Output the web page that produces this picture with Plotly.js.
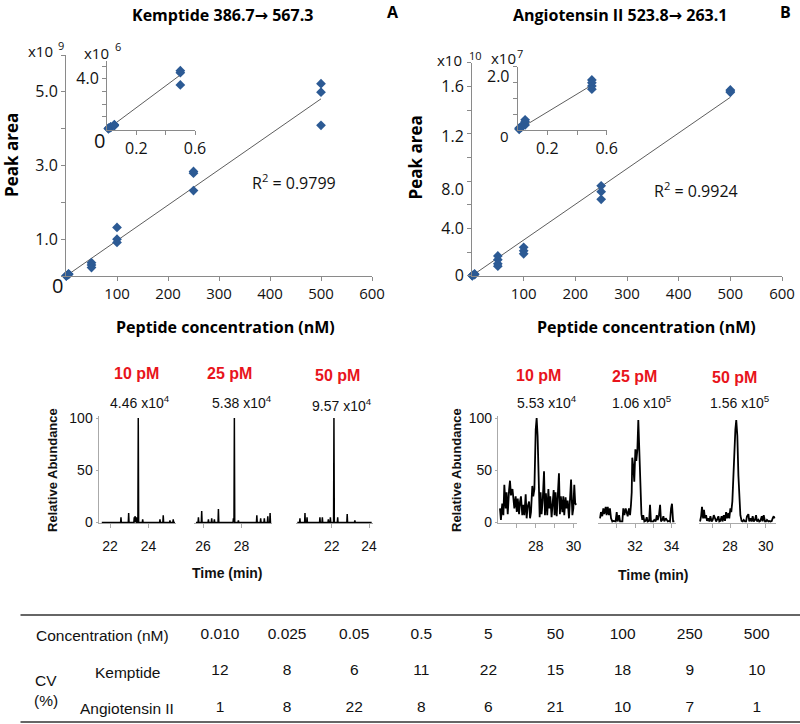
<!DOCTYPE html>
<html><head><meta charset="utf-8">
<script src="https://cdn.plot.ly/plotly-3.0.1.min.js"></script>
<style>html,body{margin:0;padding:0;background:#fff}</style>
</head><body><div id="chart" style="width:800px;height:724px"></div>
<script>
// ================= DATA =================
// Kemptide calibration (main: x10^9, inset: x10^6), concentration in nM
const kempMainConc = [0.5,0.5,0.5,5,5,5,50,50,50,100,100,100,250,250,250,500,500,500];
const kempMainArea = [0.004,0.0045,0.0035,0.05,0.04,0.06,0.36,0.30,0.23,1.32,1.00,0.91,2.84,2.79,2.32,5.22,4.99,4.09];
const kempInsetConc = [0.01,0.01,0.01,0.025,0.025,0.025,0.05,0.05,0.05,0.5,0.5,0.5];
const kempInsetArea = [0.05,0.08,0.10,0.15,0.18,0.21,0.30,0.35,0.38,4.64,4.48,3.51];
const kempMainSlope = 0.00962, kempInsetSlope = 8.6;
const kempR2 = '0.9799';
// Angiotensin II calibration (main: x10^10, inset: x10^7)
const angioMainConc = [0.5,0.5,0.5,5,5,5,50,50,50,50,100,100,100,250,250,250,500,500,500];
const angioMainArea = [0.0015,0.0014,0.0013,0.012,0.015,0.010,0.167,0.135,0.10,0.08,0.24,0.21,0.185,0.76,0.71,0.645,1.57,1.56,1.55];
const angioInsetConc = [0.01,0.01,0.01,0.025,0.025,0.025,0.05,0.05,0.05,0.5,0.5,0.5,0.5];
const angioInsetArea = [0.02,0.04,0.06,0.085,0.10,0.12,0.16,0.26,0.32,1.58,1.49,1.39,1.29];
const angioMainSlope = 0.003015, angioInsetSlope = 2.84;
const angioR2 = '0.9924';
const mainTrendX = [0, 500], insetTrendX = [0, 0.5];

// Kemptide chromatograms (spike list: time, relative abundance)
const kemp10Range = [21.57, 25.38];
const kemp10Times = [22.57,22.97,23.26,23.30,23.37,23.47,23.70,24.60,24.77,25.12,25.29];
const kemp10Heights = [5,9,5,6,5,100,3,3,7,2,3];
const kemp25Range = [25.63, 29.55];
const kemp25Times = [25.76,25.93,26.28,26.45,26.59,26.80,27.58,27.63,27.84,28.80,29.00,29.19,29.37,29.49];
const kemp25Heights = [5,11,3,4,3,13,4,100,2,7,4,4,6,9];
const kemp50Range = [20.16, 24.14];
const kemp50Times = [20.30,20.57,20.68,21.37,21.50,21.82,21.93,22.12,22.32,22.83,23.24];
const kemp50Heights = [4,9,5,5,5,3,5,100,5,8,2];

// Angiotensin II chromatograms (traces)
const angio10Time = [26.11,26.16,26.23,26.29,26.34,26.41,26.46,26.52,26.59,26.64,26.69,26.77,26.82,26.87,26.94,27.0,27.05,27.12,27.17,27.22,27.29,27.35,27.40,27.47,27.52,27.57,27.65,27.70,27.75,27.82,27.87,27.93,28.0,28.05,28.10,28.16,28.21,28.26,28.31,28.37,28.44,28.49,28.54,28.61,28.67,28.72,28.77,28.84,28.89,28.95,29.0,29.05,29.11,29.16,29.23,29.28,29.33,29.41,29.46,29.51,29.58,29.63,29.69,29.76,29.81,29.87,29.94,29.99,30.04,30.09,30.15];
const angio10Abund = [13.5,2.5,18,7,36,13.5,29,8,31,40,26,32,23,13.5,25,10,23,8,20,25,7,17,7,27,4,15,20,4,10,35,25,32,89,100,83,40,5,29,8,21,49,7,28,7,32,13.5,25,5,17,31,7,29,6,24,47,8,25,10,25,7,24,13.5,21,4,17,41,7,13.5,36,18,17];
const angio25Time = [30.09,30.14,30.21,30.27,30.32,30.40,30.45,30.51,30.58,30.63,30.69,30.76,30.81,30.87,30.94,31.0,31.05,31.13,31.18,31.23,31.31,31.36,31.42,31.49,31.55,31.60,31.67,31.73,31.78,31.82,31.85,31.91,31.96,32.02,32.07,32.13,32.18,32.24,32.29,32.35,32.40,32.45,32.51,32.58,32.64,32.69,32.77,32.82,32.87,32.95,33.0,33.05,33.13,33.19,33.24,33.31,33.37,33.42,33.49,33.55,33.60,33.68,33.73,33.79,33.86,33.91,33.97,34.02,34.08,34.15];
const angio25Abund = [4,10,6,13.5,8,15,7,15,7,13.5,4,1,1.5,1,1,10,1,7,1,1,1,13.5,7,13.5,7,6,13.5,7,17,29,62,53,39,70,59,70,98,61,29,8,2.5,7,1,1.5,5,1,1.5,17,1,1,1,2.5,1,7,2.5,7,17,1,2.5,6,1,4,2.5,1,1.5,1,13.5,18,1,1];
const angio50Time = [26.32,26.38,26.43,26.49,26.54,26.60,26.66,26.71,26.78,26.84,26.90,26.97,27.03,27.09,27.16,27.22,27.27,27.35,27.40,27.46,27.53,27.59,27.65,27.72,27.78,27.83,27.91,27.96,28.02,28.07,28.13,28.19,28.24,28.30,28.35,28.41,28.47,28.52,28.58,28.65,28.71,28.77,28.84,28.90,28.95,29.03,29.08,29.14,29.21,29.27,29.33,29.40,29.46,29.51,29.59,29.64,29.70,29.78,29.83,29.89,29.96,30.02,30.07,30.15,30.20,30.26,30.34,30.39,30.45,30.50];
const angio50Abund = [1,6,15,4,12,4,7,1.5,4,1,6,1,2.5,7,4,1,2.5,6,1,1.5,6,1,7,1.5,10,4,9,4,13.5,10,20,45,70,89,98,83,45,32,7,1.5,1,2.5,1,1,6,8,1,4,1,6,1,2.5,7,1,2.5,1,1.5,6,1,7,1,1,2.5,1,1.5,1,1.5,4,6,4];

// Peak labels
const levelLabels = ['10 pM','25 pM','50 pM'];
const kempIntensity = ['4.46 x10<sup>4</sup>','5.38 x10<sup>4</sup>','9.57 x10<sup>4</sup>'];
const angioIntensity = ['5.53 x10<sup>4</sup>','1.06 x10<sup>5</sup>','1.56 x10<sup>5</sup>'];

// CV table
const tableConc = ['0.010','0.025','0.05','0.5','5','50','100','250','500'];
const tableRows = ['Concentration (nM)','Kemptide','Angiotensin II'];
const cvKemptide = [12,8,6,11,22,15,18,9,10];
const cvAngiotensin = [1,8,22,8,6,21,10,7,1];

// ================= HELPERS =================
const W = 800, H = 724;
const dx = (a, b) => [a / W, b / W];
const dy = (top, bot) => [1 - bot / H, 1 - top / H];
const AX = '#8a8a8a';
const BLUE = '#2c5a94';
const OS = 'Open Sans, sans-serif';
const ARIAL = 'Liberation Sans, Arial, sans-serif';
const SPIKE_HALF = 0.02;

function sticks(range, ts, hs) {
  const x = [range[0]], y = [0];
  ts.forEach((t, i) => { x.push(t - SPIKE_HALF, t, t + SPIKE_HALF); y.push(0, hs[i], 0); });
  x.push(range[1]); y.push(0);
  return {x, y};
}
function ann(text, px, py, font, extra) {
  return Object.assign({text, x: px / W, y: 1 - py / H, xref: 'paper', yref: 'paper',
    xanchor: 'center', yanchor: 'middle', showarrow: false, font}, extra || {});
}
const base = {showgrid: false, zeroline: false};
function linAxis(o) {
  return Object.assign({}, base, {ticks: 'outside', ticklen: 4, tickcolor: AX, tickwidth: 1,
    showline: true, linecolor: AX, linewidth: 1,
    tickfont: {family: OS, size: 16, color: '#111'}}, o);
}

// chromatogram axis mapping: value 0 -> 522.5px, 1.045 px per unit
const chromYDom = dy(522.5 - 101.5 * 1.045, 522.5 + 0.8 * 1.045);
function chromX(o) {
  return Object.assign({}, base, {ticks: 'outside', ticklen: 4, tickcolor: '#aaa',
    showline: true, linecolor: '#aaa', linewidth: 1, layer: 'below traces',
    tickfont: {family: ARIAL, size: 14, color: '#111'}, ticklabelstandoff: 6}, o);
}
function chromY(o, show) {
  return Object.assign({}, base, {range: [-0.8, 101.5], domain: chromYDom, tickvals: [0, 50, 100],
    showticklabels: show, ticks: show ? 'outside' : '', ticklen: 2, tickcolor: '#aaa',
    showline: show, linecolor: '#aaa', linewidth: 1, layer: 'below traces',
    tickfont: {family: ARIAL, size: 14, color: '#111'}}, o);
}

// ================= TRACES =================
const traces = [];
function scatterPts(x, y, xa, ya) {
  traces.push({type: 'scatter', mode: 'markers', x, y, xaxis: xa, yaxis: ya, cliponaxis: false,
    marker: {symbol: 'diamond', size: 7.5, color: BLUE}, hoverinfo: 'skip'});
}
function trend(xs, slope, xa, ya) {
  traces.push({type: 'scatter', mode: 'lines', x: xs, y: xs.map(v => v * slope), xaxis: xa, yaxis: ya,
    cliponaxis: false, line: {color: '#333', width: 0.8}, hoverinfo: 'skip'});
}
trend(mainTrendX, kempMainSlope, 'x', 'y');
scatterPts(kempMainConc, kempMainArea, 'x', 'y');
trend(insetTrendX, kempInsetSlope, 'x2', 'y2');
scatterPts(kempInsetConc, kempInsetArea, 'x2', 'y2');
trend(mainTrendX, angioMainSlope, 'x3', 'y3');
scatterPts(angioMainConc, angioMainArea, 'x3', 'y3');
trend(insetTrendX, angioInsetSlope, 'x4', 'y4');
scatterPts(angioInsetConc, angioInsetArea, 'x4', 'y4');
// dummy traces for label overlay axes
traces.push({type: 'scatter', mode: 'markers', x: [], y: [], xaxis: 'x3', yaxis: 'y12', hoverinfo: 'skip'});
traces.push({type: 'scatter', mode: 'markers', x: [], y: [], xaxis: 'x4', yaxis: 'y13', hoverinfo: 'skip'});

const chromLine = {color: '#000', width: 1.5};
[[kemp10Range, kemp10Times, kemp10Heights, 'x5', 'y5'],
 [kemp25Range, kemp25Times, kemp25Heights, 'x6', 'y6'],
 [kemp50Range, kemp50Times, kemp50Heights, 'x7', 'y7']].forEach(([r, t, h, xa, ya]) => {
  const s = sticks(r, t, h);
  traces.push({type: 'scatter', mode: 'lines', x: s.x, y: s.y, xaxis: xa, yaxis: ya, line: chromLine, hoverinfo: 'skip'});
});
[[angio10Time, angio10Abund, 'x8', 'y8'],
 [angio25Time, angio25Abund, 'x9', 'y9'],
 [angio50Time, angio50Abund, 'x10', 'y10']].forEach(([t, a, xa, ya]) => {
  traces.push({type: 'scatter', mode: 'lines', x: t, y: a, xaxis: xa, yaxis: ya,
    line: {color: '#000', width: 1.8}, hoverinfo: 'skip'});
});

// table cells
const cellFont = {family: ARIAL, size: 15.5, color: '#111'};
[[tableConc, tableRows[0]], [cvKemptide.map(String), tableRows[1]], [cvAngiotensin.map(String), tableRows[2]]]
  .forEach(([vals, row]) => {
    traces.push({type: 'scatter', mode: 'text', x: tableConc, y: tableConc.map(() => row), text: vals,
      textposition: 'middle center', textfont: cellFont, xaxis: 'x11', yaxis: 'y11', cliponaxis: false, hoverinfo: 'skip'});
  });

// ================= LAYOUT =================
const layout = {
  width: W, height: H, margin: {l: 0, r: 0, t: 0, b: 0},
  paper_bgcolor: '#fff', plot_bgcolor: 'rgba(0,0,0,0)', showlegend: false,
  xaxis: linAxis({domain: dx(66, 372), anchor: 'y', range: [0, 600], tickvals: [100, 200, 300, 400, 500, 600],
    tickfont: {family: OS, size: 15, color: '#111'}}),
  yaxis: linAxis({domain: dy(55, 276), anchor: 'x', range: [0, 6], tickvals: [0, 1, 2, 3, 4, 5, 6],
    ticktext: ['', '1.0', '', '3.0', '', '5.0', '']}),
  xaxis2: linAxis({domain: dx(107, 195), anchor: 'y2', range: [0, 0.6], tickvals: [0.2, 0.4, 0.6], ticktext: ['0.2', '', '0.6']}),
  yaxis2: linAxis({domain: dy(61, 129.5), anchor: 'x2', range: [0, 5.4], tickvals: [1, 2, 3, 4, 5], ticktext: ['', '', '', '4.0', '']}),
  xaxis3: linAxis({domain: dx(472, 782), anchor: 'y3', range: [0, 600], tickvals: [100, 200, 300, 400, 500, 600],
    tickfont: {family: OS, size: 15, color: '#111'}}),
  yaxis3: linAxis({domain: dy(62.7, 275.7), anchor: 'x3', range: [0, 1.8],
    tickvals: [0, 0.2, 0.4, 0.6, 0.8, 1.0, 1.2, 1.4, 1.6, 1.8], showticklabels: false}),
  yaxis12: linAxis({overlaying: 'y3', anchor: 'x3', side: 'left', range: [0, 1.8], showline: false,
    tickcolor: 'rgba(0,0,0,0)', tickvals: [0, 0.4, 0.727, 1.175, 1.603], ticktext: ['0', '4.0', '8.0', '1.2', '1.6']}),
  xaxis4: linAxis({domain: dx(517.7, 606.7), anchor: 'y4', range: [0, 0.6], tickvals: [0.2, 0.4, 0.6], ticktext: ['0.2', '', '0.6']}),
  yaxis4: linAxis({domain: dy(66.7, 130), anchor: 'x4', range: [0, 2], tickvals: [0.5, 1, 1.5, 2], showticklabels: false}),
  yaxis13: linAxis({overlaying: 'y4', anchor: 'x4', side: 'left', range: [0, 2], showline: false,
    tickcolor: 'rgba(0,0,0,0)', tickvals: [1.68], ticktext: ['2.0']}),
  // Kemptide chromatograms
  xaxis5: chromX({domain: dx(98.5, 176.3), anchor: 'y5', range: [21.4, 25.45], tickvals: [22, 24]}),
  yaxis5: chromY({anchor: 'x5'}, true),
  xaxis6: chromX({domain: dx(194.4, 272.2), anchor: 'y6', range: [25.55, 29.6], tickvals: [26, 28]}),
  yaxis6: chromY({anchor: 'x6'}, false),
  xaxis7: chromX({domain: dx(296.2, 372.8), anchor: 'y7', range: [20.1, 24.2], tickvals: [22, 24]}),
  yaxis7: chromY({anchor: 'x7'}, false),
  // Angiotensin chromatograms
  xaxis8: chromX({domain: dx(497.9, 577.3), anchor: 'y8', range: [26.0, 30.2], tickvals: [27, 28, 29, 30], ticktext: ['', '28', '', '30']}),
  yaxis8: chromY({anchor: 'x8'}, true),
  xaxis9: chromX({domain: dx(598.4, 676.2), anchor: 'y9', range: [30.0, 34.25], tickvals: [31, 32, 33, 34], ticktext: ['', '32', '', '34']}),
  yaxis9: chromY({anchor: 'x9'}, false),
  xaxis10: chromX({domain: dx(698.8, 776.4), anchor: 'y10', range: [26.25, 30.6], tickvals: [27, 28, 29, 30], ticktext: ['', '28', '', '30']}),
  yaxis10: chromY({anchor: 'x10'}, false),
  // table
  xaxis11: {domain: dx(186.45, 790.35), anchor: 'y11', type: 'category', categoryorder: 'array', categoryarray: tableConc,
    range: [-0.5, 8.5], visible: false},
  yaxis11: {domain: dy(627.7, 715.3), anchor: 'x11', type: 'category', categoryorder: 'array', categoryarray: tableRows,
    range: [2.2, -0.2], visible: false},
  shapes: [
    {type: 'line', xref: 'paper', yref: 'paper', x0: 20.5 / W, x1: 1, y0: 1 - 615 / H, y1: 1 - 615 / H, line: {color: '#333', width: 1.5}},
    {type: 'line', xref: 'paper', yref: 'paper', x0: 20.5 / W, x1: 1, y0: 1 - 722 / H, y1: 1 - 722 / H, line: {color: '#333', width: 1.5}}
  ],
  annotations: []
};

const A = layout.annotations;
const titleF = {family: OS, size: 16, color: '#000'};
const axTitleF = {family: OS, size: 17, color: '#000'};
const xTitleF = {family: OS, size: 16, color: '#000'};
const plainF = {family: OS, size: 16, color: '#111'};
const ARROW = '<span style="font-family:DejaVu Sans">→</span>';
A.push(ann('<b>Kemptide 386.7' + ARROW + ' 567.3</b>', 222, 14.5, titleF));
A.push(ann('<b>A</b>', 392.5, 12, {family: OS, size: 16, color: '#000'}));
A.push(ann('<b>Angiotensin II 523.8' + ARROW + ' 263.1</b>', 620, 14.5, titleF));
A.push(ann('<b>B</b>', 785, 12, {family: OS, size: 16, color: '#000'}));
A.push(ann('<b>Peak area</b>', 11, 155, axTitleF, {textangle: -90}));
A.push(ann('<b>Peak area</b>', 415, 157.5, axTitleF, {textangle: -90}));
A.push(ann('<b>Peptide concentration (nM)</b>', 225, 327, xTitleF));
A.push(ann('<b>Peptide concentration (nM)</b>', 646.5, 327, xTitleF));
A.push(ann('R<sup>2</sup> = ' + kempR2, 294, 182, plainF));
A.push(ann('R<sup>2</sup> = ' + angioR2, 695.7, 190, plainF));
const expF = {family: OS, size: 15, color: '#111'};
const supF = {family: OS, size: 11, color: '#111'};
A.push(ann('x10', 40.5, 51, expF)); A.push(ann('9', 61, 45, supF));
A.push(ann('x10', 96, 53, expF)); A.push(ann('6', 118, 46.7, supF));
A.push(ann('x10', 449, 60, expF)); A.push(ann('10', 475.8, 55.5, supF));
A.push(ann('x10', 503, 58, expF)); A.push(ann('7', 520, 53.5, supF));
A.push(ann('0', 57.8, 285, {family: OS, size: 20, color: '#111'}));
A.push(ann('0', 99, 140, {family: OS, size: 20, color: '#111'}));
A.push(ann('0', 504, 135.7, {family: OS, size: 15, color: '#111'}));

// chromatogram labels
const redF = {family: ARIAL, size: 16, color: '#e8141c'};
const intF = {family: ARIAL, size: 14, color: '#111'};
const abF = {family: ARIAL, size: 13, color: '#111'};
const timeF = {family: ARIAL, size: 14, color: '#111'};
[[136, 374], [230, 374], [337, 375]].forEach((p, i) => A.push(ann('<b>' + levelLabels[i] + '</b>', p[0], p[1], redF)));
[[140, 402], [242, 402], [342, 405]].forEach((p, i) => A.push(ann(kempIntensity[i], p[0], p[1], intF)));
[[538, 375], [634, 376], [734, 377]].forEach((p, i) => A.push(ann('<b>' + levelLabels[i] + '</b>', p[0], p[1], redF)));
[[547, 402], [642, 402], [740, 402]].forEach((p, i) => A.push(ann(angioIntensity[i], p[0], p[1], intF)));
A.push(ann('<b>Relative Abundance</b>', 53, 470, abF, {textangle: -90}));
A.push(ann('<b>Relative Abundance</b>', 457, 470, abF, {textangle: -90}));
A.push(ann('<b>Time (min)</b>', 227.5, 573, timeF));
A.push(ann('<b>Time (min)</b>', 653, 575, timeF));

// table row labels
A.push(ann(tableRows[0], 102, 635, cellFont));
A.push(ann(tableRows[1], 127, 672, cellFont));
A.push(ann(tableRows[2], 127, 708, cellFont));
A.push(ann('CV', 46, 680, cellFont));
A.push(ann('(%)', 46, 700, cellFont));

Plotly.newPlot('chart', traces, layout, {staticPlot: true, displayModeBar: false});
</script>
</body></html>
